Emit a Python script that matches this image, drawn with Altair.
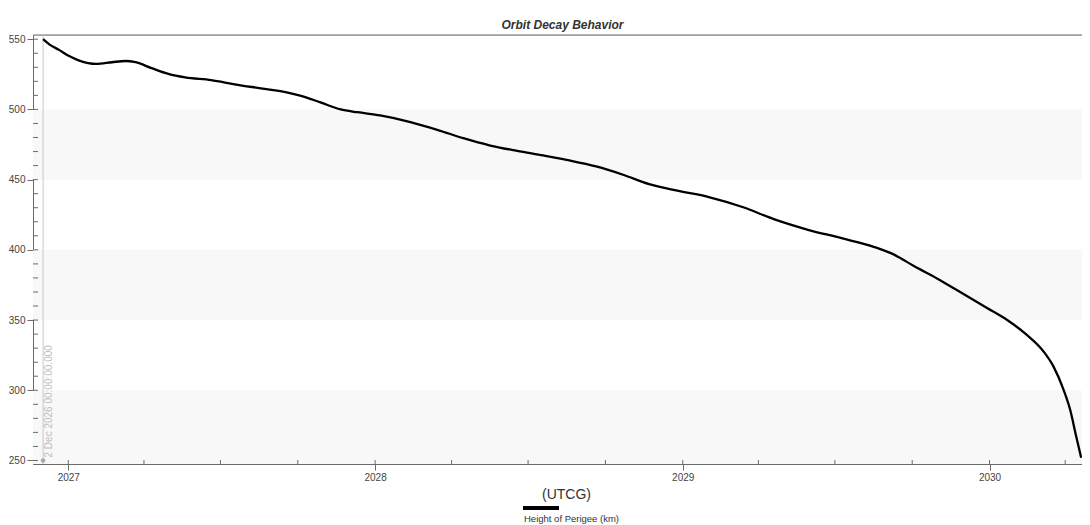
import altair as alt
import pandas as pd

# ---- data ----
dates = [
    "2026-12-02", "2026-12-09", "2026-12-21", "2027-01-02", "2027-01-14", "2027-02-03",
    "2027-02-22", "2027-03-10", "2027-03-22", "2027-04-10", "2027-04-30", "2027-05-20",
    "2027-06-20", "2027-07-18", "2027-08-18", "2027-09-19", "2027-10-05", "2027-10-28",
    "2027-11-21", "2027-12-11", "2028-01-07", "2028-02-12", "2028-03-15", "2028-04-15",
    "2028-05-17", "2028-06-18", "2028-07-19", "2028-08-19", "2028-09-20", "2028-10-22",
    "2028-11-22", "2028-12-24", "2029-02-01", "2029-03-13", "2029-04-21", "2029-05-30",
    "2029-07-09", "2029-08-17", "2029-09-10", "2029-10-03", "2029-10-31", "2029-11-20",
    "2029-12-29", "2030-01-22", "2030-02-14", "2030-03-06", "2030-03-18", "2030-03-30",
    "2030-04-07", "2030-04-14", "2030-04-20",
]
perigee = [
    550.0, 546.5, 542.4, 538.0, 534.8, 532.4,
    533.6, 534.5, 533.6, 529.4, 525.3, 522.8,
    520.9, 517.9, 515.0, 512.0, 509.7, 505.0,
    500.0, 498.0, 495.7, 491.0, 485.5, 479.5,
    474.3, 470.5, 467.2, 463.7, 459.4, 453.5,
    446.8, 442.3, 437.6, 430.5, 421.5, 414.3,
    408.3, 402.0, 396.4, 388.5, 379.5, 372.5,
    358.6, 350.0, 339.6, 327.8, 317.0, 300.5,
    286.0, 267.4, 252.0,
]
series_names = ["Height of Perigee (km)"]

marker_dates = ["2026-12-02"]
marker_labels = ["2 Dec 2026 00:00:00.000"]
marker_values = [250]

band_low = [240, 350, 450]
band_high = [300, 400, 500]

y_label_values = [250, 300, 350, 400, 450, 500, 550]
y_minor_values = list(range(250, 551, 10))
year_ticks = [2027, 2028, 2029, 2030]
quarter_ticks = [
    "2027-01-01", "2027-04-01", "2027-07-01", "2027-10-01",
    "2028-01-01", "2028-04-01", "2028-07-01", "2028-10-01",
    "2029-01-01", "2029-04-01", "2029-07-01", "2029-10-01",
    "2030-01-01", "2030-04-01",
]

W, H = 1049, 429
FONT = "Liberation Sans"
AXIS_COLOR = "#6a6a6a"
LABEL_COLOR = "#444444"

df = pd.DataFrame({"date": dates, "perigee": perigee, "series": series_names[0]})
bands = pd.DataFrame({"lo": band_low, "hi": band_high})
yminor = pd.DataFrame({"v": y_minor_values})
xq = pd.DataFrame({"d": quarter_ticks})
marker = pd.DataFrame({"d": marker_dates, "label": marker_labels, "v": marker_values})
legend_df = pd.DataFrame({"name": series_names})

xscale = alt.Scale(
    type="utc",
    domain=[
        alt.DateTime(year=2026, month=11, date=20, utc=True),
        alt.DateTime(year=2030, month=4, date=21, utc=True),
    ],
)
yscale = alt.Scale(domain=[247.5, 553], nice=False, zero=False)

xaxis = alt.Axis(
    values=[alt.DateTime(year=y, month=1, date=1, utc=True) for y in year_ticks],
    format="%Y",
    title="(UTCG)",
    titleFontSize=14,
    titleFontWeight="normal",
    titleColor="#333333",
    titleFont=FONT,
    titlePadding=5,
    titleX=533,
    labelFontSize=10,
    labelColor=LABEL_COLOR,
    labelFont=FONT,
    labelPadding=2,
    tickSize=6,
    tickColor=AXIS_COLOR,
    domainColor=AXIS_COLOR,
    grid=False,
)
yaxis = alt.Axis(
    values=y_label_values,
    title=None,
    labelFontSize=10,
    labelColor=LABEL_COLOR,
    labelFont=FONT,
    labelPadding=2,
    tickSize=6,
    tickColor=AXIS_COLOR,
    domainColor=AXIS_COLOR,
    grid=False,
)

band_layer = alt.Chart(bands).mark_rect(color="#f8f8f8", clip=True).encode(
    y=alt.Y("lo:Q", scale=yscale, axis=yaxis),
    y2="hi:Q",
    x=alt.value(0),
    x2=alt.value(W),
)

top_border = alt.Chart(legend_df).mark_rule(color=AXIS_COLOR, strokeWidth=1).encode(
    x=alt.value(0),
    x2=alt.value(W),
    y=alt.value(0),
)

yminor_layer = alt.Chart(yminor).mark_rule(color=AXIS_COLOR, strokeWidth=1).encode(
    y=alt.Y("v:Q", scale=yscale, axis=yaxis),
    x=alt.value(0),
    x2=alt.value(5),
)

xminor_layer = alt.Chart(xq).mark_rule(color=AXIS_COLOR, strokeWidth=1).encode(
    x=alt.X("d:T", scale=xscale, axis=xaxis),
    y=alt.value(H - 4),
    y2=alt.value(H),
)

marker_rule = alt.Chart(marker).mark_rule(color="#c8c8c8", strokeWidth=1).encode(
    x=alt.X("d:T", scale=xscale, axis=xaxis),
    y=alt.value(0),
    y2=alt.value(H),
)

marker_text = alt.Chart(marker).mark_text(
    angle=270, align="left", baseline="middle", dx=3, dy=6,
    fontSize=10, color="#bdbdbd", font=FONT,
).encode(
    x=alt.X("d:T", scale=xscale, axis=xaxis),
    y=alt.Y("v:Q", scale=yscale, axis=yaxis),
    text="label:N",
)

marker_dot = alt.Chart(marker).mark_point(filled=True, color="#aaaaaa", size=22, opacity=1).encode(
    x=alt.X("d:T", scale=xscale, axis=xaxis),
    y=alt.Y("v:Q", scale=yscale, axis=yaxis),
)

line_layer = alt.Chart(df).mark_line(color="black", strokeWidth=2.3, interpolate="monotone").encode(
    x=alt.X("date:T", scale=xscale, axis=xaxis),
    y=alt.Y("perigee:Q", scale=yscale, axis=yaxis),
)

legend_sym = alt.Chart(legend_df).mark_rule(color="black", strokeWidth=4).encode(
    x=alt.value(490),
    x2=alt.value(526),
    y=alt.value(473),
    detail="name:N",
)
legend_txt = alt.Chart(legend_df).mark_text(
    align="left", baseline="middle", fontSize=9.5, color="#333333", font=FONT,
).encode(
    x=alt.value(491),
    y=alt.value(484),
    text="name:N",
)

chart = alt.layer(
    band_layer, top_border, marker_rule, yminor_layer, xminor_layer, marker_text, marker_dot,
    line_layer, legend_sym, legend_txt,
).properties(
    width=W,
    height=H,
    title=alt.TitleParams(
        "Orbit Decay Behavior", fontSize=12, fontStyle="italic", fontWeight="bold",
        color="#333333", font=FONT, offset=2, anchor="middle", dx=5,
    ),
    autosize=alt.AutoSizeParams(type="none"),
    padding={"left": 25, "top": 27, "right": 0, "bottom": 61},
).configure_view(
    stroke=None,
).configure(
    font=FONT, background="white",
)

chart.save("out.html", embed_options={"renderer": "svg", "actions": False})
